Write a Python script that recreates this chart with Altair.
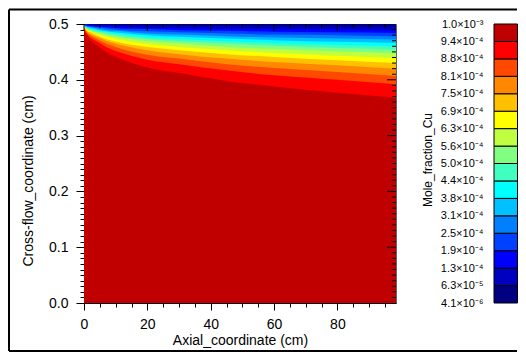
import json
import altair as alt
import pandas as pd

x_pts = [0, 1, 2, 4, 7, 12, 20, 30, 45, 60, 80, 98.5]

# Lower edge of each contour band (cross-flow coordinate, cm), from the bulk value up to the wall
b0 = [0.0, 0.0, 0.0, 0.0, 0.0, 0.0, 0.0, 0.0, 0.0, 0.0, 0.0, 0.0]
b1 = [0.489, 0.478, 0.471, 0.462, 0.450, 0.437, 0.422, 0.412, 0.398, 0.388, 0.377, 0.368]
b2 = [0.491, 0.482, 0.476, 0.469, 0.459, 0.448, 0.436, 0.428, 0.417, 0.408, 0.400, 0.392]
b3 = [0.493, 0.484, 0.480, 0.473, 0.465, 0.455, 0.445, 0.438, 0.428, 0.421, 0.414, 0.407]
b4 = [0.494, 0.486, 0.482, 0.477, 0.470, 0.462, 0.453, 0.446, 0.438, 0.432, 0.426, 0.420]
b5 = [0.494, 0.488, 0.485, 0.480, 0.473, 0.466, 0.459, 0.453, 0.446, 0.441, 0.435, 0.430]
b6 = [0.495, 0.490, 0.487, 0.482, 0.477, 0.471, 0.464, 0.459, 0.453, 0.448, 0.443, 0.439]
b7 = [0.496, 0.491, 0.488, 0.485, 0.480, 0.475, 0.469, 0.465, 0.459, 0.455, 0.451, 0.447]
b8 = [0.496, 0.492, 0.490, 0.487, 0.483, 0.478, 0.473, 0.469, 0.465, 0.461, 0.457, 0.454]
b9 = [0.497, 0.493, 0.491, 0.488, 0.485, 0.481, 0.476, 0.473, 0.469, 0.466, 0.463, 0.460]
b10 = [0.497, 0.494, 0.493, 0.490, 0.487, 0.484, 0.480, 0.477, 0.474, 0.471, 0.468, 0.466]
b11 = [0.498, 0.495, 0.494, 0.492, 0.489, 0.487, 0.483, 0.481, 0.478, 0.476, 0.474, 0.472]
b12 = [0.498, 0.496, 0.495, 0.494, 0.492, 0.489, 0.487, 0.485, 0.483, 0.481, 0.480, 0.478]
b13 = [0.499, 0.497, 0.4965, 0.495, 0.494, 0.492, 0.491, 0.489, 0.488, 0.486, 0.485, 0.484]
b14 = [0.499, 0.498, 0.4976, 0.497, 0.496, 0.495, 0.4935, 0.493, 0.4915, 0.491, 0.490, 0.489]
b15 = [0.4996, 0.499, 0.4988, 0.4984, 0.498, 0.4974, 0.4968, 0.4963, 0.4958, 0.4953, 0.4949, 0.4945]
boundaries = [b0, b1, b2, b3, b4, b5, b6, b7, b8, b9, b10, b11, b12, b13, b14, b15]

# Colour bar levels, bottom to top
level_labels = ["4.1×10⁻⁶", "6.3×10⁻⁵", "1.3×10⁻⁴", "1.9×10⁻⁴", "2.5×10⁻⁴", "3.1×10⁻⁴",
                "3.8×10⁻⁴", "4.4×10⁻⁴", "5.0×10⁻⁴", "5.6×10⁻⁴", "6.3×10⁻⁴", "6.9×10⁻⁴",
                "7.5×10⁻⁴", "8.1×10⁻⁴", "8.8×10⁻⁴", "9.4×10⁻⁴", "1.0×10⁻³"]
band_colors = ["#000080", "#0000c0", "#0000ff", "#0040ff", "#0080ff", "#00c0ff",
               "#00ffff", "#40ffc0", "#80ff80", "#c0ff40", "#ffff00", "#ffc000",
               "#ff8800", "#ff4800", "#ff0000", "#c00000"]

x_major = [0, 20, 40, 60, 80]
x_minor = [5, 10, 15, 25, 30, 35, 45, 50, 55, 65, 70, 75, 85, 90, 95]
x_all = list(range(0, 100, 5))
y_all = [round(i * 0.01, 2) for i in range(51)]
y_major = [0.1, 0.2, 0.3, 0.4]
y_minor = [v for v in y_all if round(v * 100) % 10 != 0]

rows = []
for k, b in enumerate(boundaries):
    for xv, yv in zip(x_pts, b):
        rows.append({"x": xv, "y": yv, "level": k})
df = pd.DataFrame(rows)

FONT = "Liberation Sans"
xscale = alt.Scale(domain=[0, 98.5], nice=False, zero=False)
yscale = alt.Scale(domain=[0, 0.5], nice=False, zero=False)

xaxis = alt.Axis(
    values=x_all, title="Axial_coordinate (cm)",
    labelExpr="datum.value % 20 === 0 ? datum.label : ''",
    tickSize=alt.condition("datum.value % 20 === 0", alt.value(7), alt.value(4)),
    labelPadding=7, labelOverlap=False, labelFlush=False, titlePadding=2, grid=False,
)
yaxis = alt.Axis(
    values=y_all, title="Cross-flow_coordinate (cm)",
    labelExpr="round(datum.value*100) % 10 === 0 ? format(datum.value, '.1f') : ''",
    tickSize=alt.condition("round(datum.value*100) % 10 === 0", alt.value(8), alt.value(4)),
    labelPadding=8, labelOverlap=False, labelFlush=False, grid=False,
    titleX=-56, titleY=156.5, titleAngle=270, titleAlign="center", titleBaseline="middle",
)

X = alt.X("x:Q", scale=xscale, axis=xaxis)
Y = alt.Y("y:Q", scale=yscale, axis=yaxis)

layers = []
for k in range(len(boundaries)):
    layers.append(
        alt.Chart(df).transform_filter(alt.datum.level == k)
        .mark_area(color=band_colors[15 - k], interpolate="monotone")
        .encode(x=X, y=Y, y2=alt.Y2Datum(0.5))
    )

def xticks(vals, length):
    return alt.Chart(pd.DataFrame({"x": vals})).mark_rule(color="black").encode(
        x=X, y=alt.value(0), y2=alt.value(length))

def yticks(vals, length):
    return alt.Chart(pd.DataFrame({"y": vals})).mark_rule(color="black").encode(
        y=Y, x=alt.value(312), x2=alt.value(312 - length))

layers += [xticks(x_major, 7), xticks(x_minor, 4), yticks(y_major, 9), yticks(y_minor, 4)]

one = alt.Data(values=[{}])
layers += [
    alt.Chart(one).mark_rule(color="black", strokeWidth=2).encode(
        x=alt.value(-75), y=alt.value(-14.5), y2=alt.value(327)),
    alt.Chart(one).mark_rule(color="black", strokeWidth=2).encode(
        x=alt.value(-75), x2=alt.value(433), y=alt.value(-14.5)),
    alt.Chart(one).mark_rule(color="black", strokeWidth=2).encode(
        x=alt.value(-75), x2=alt.value(433), y=alt.value(327)),
]

main = alt.layer(*layers)

cb_df = pd.DataFrame({"lo": list(range(16)), "hi": list(range(1, 17))})
cbaxis = alt.Axis(
    orient="right", values=list(range(17)),
    labelExpr=json.dumps(level_labels, ensure_ascii=False) + "[datum.value]",
    ticks=False, tickSize=0, domain=False, grid=False,
    labelPadding=87, labelAlign="right", labelOverlap=False, labelFlush=False, labelFontSize=11,
    title="Mole_fraction_Cu", titleFontSize=12,
    titleX=31, titleY=135.5, titleAngle=270, titleAlign="center", titleBaseline="middle",
)
colorbar = alt.Chart(cb_df).mark_rect(stroke="black", strokeWidth=1).encode(
    x=alt.XDatum(0, scale=alt.Scale(domain=[0, 1], range=[410, 433.5]), axis=None),
    x2=alt.X2Datum(1),
    y=alt.Y("lo:Q", scale=alt.Scale(domain=[0, 16], nice=False, zero=False), axis=cbaxis),
    y2="hi:Q",
    color=alt.Color("lo:O", scale=alt.Scale(domain=list(range(16)), range=band_colors), legend=None),
)

chart = alt.layer(main, colorbar).resolve_scale(
    x="independent", y="independent", color="independent"
).properties(width=312, height=279, padding=0, background="white").configure(
    font=FONT
).configure_view(stroke="#666666", strokeWidth=1).configure_axis(
    domainColor="black", tickColor="black", labelColor="black", titleColor="black",
    labelFont=FONT, titleFont=FONT, labelFontSize=14, titleFontSize=14,
    titleFontWeight="normal", tickWidth=1, domainWidth=1,
)

chart.save("out.html", embed_options={"renderer": "svg", "actions": False})
